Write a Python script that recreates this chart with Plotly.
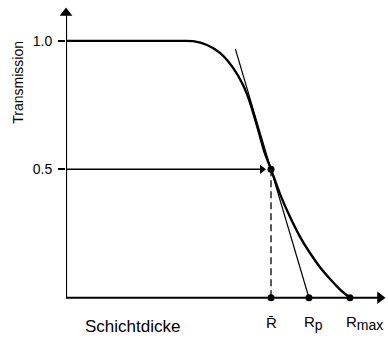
import plotly.graph_objects as go

# ---- data (thickness in units of mean range R̄, transmission 0..1) ----
curve_x = [0.0, 0.556, 0.620, 0.688, 0.751, 0.815, 0.863, 0.898, 0.937, 0.966,
           1.0, 1.044, 1.093, 1.141, 1.190, 1.239, 1.288, 1.337, 1.385]
curve_y = [1.0, 1.0, 0.999, 0.984, 0.953, 0.895, 0.829, 0.759, 0.654, 0.572,
           0.5, 0.4035, 0.314, 0.238, 0.174, 0.119, 0.073, 0.032, 0.0]
tangent_x = [0.826, 1.185]
tangent_y = [0.969, 0.0]
R_bar, R_p, R_max = 1.0, 1.185, 1.385
T_half = 0.5
y_ticks = [0.5, 1.0]
y_ticktext = ["0.5", "1.0"]
x_marks = [R_bar, R_p, R_max]
x_labels = ["R\u0304",
            "R<sub><span style='font-size:14px'>p</span></sub>",
            "R<sub><span style='font-size:14px'>max</span></sub>"]
x_axis_end = 1.556
y_axis_end = 1.128

X_RANGE = [0, x_axis_end]
Y_RANGE = [-0.04, y_axis_end]
X_PX = 205.0  # pixels per x unit
Y_PX = 257.0  # pixels per y unit


def px(x):  # data x -> paper fraction
    return (x - X_RANGE[0]) / (X_RANGE[1] - X_RANGE[0])


def py(y):  # data y -> paper fraction
    return (y - Y_RANGE[0]) / (Y_RANGE[1] - Y_RANGE[0])


FONT = "Liberation Sans, Arial, sans-serif"
fig = go.Figure()


def line(x, y, width, dash=None):
    fig.add_trace(go.Scatter(x=x, y=y, mode="lines",
                             line=dict(color="black", width=width, dash=dash),
                             cliponaxis=False, hoverinfo="skip", showlegend=False))


def head(x, y, symbol, size):
    fig.add_trace(go.Scatter(x=[x], y=[y], mode="markers",
                             marker=dict(color="black", size=size, symbol=symbol,
                                         line=dict(width=0)),
                             cliponaxis=False, hoverinfo="skip", showlegend=False))


# axes with arrowheads
x_head = x_axis_end - 5 / X_PX
y_head = y_axis_end - 5 / Y_PX
line([0, x_head], [0, 0], 2.2)
line([0, 0], [0, y_head], 2.2)
head(x_head, 0, "triangle-right", 11)
head(0, y_head, "triangle-up", 11)

# transmission curve
fig.add_trace(go.Scatter(x=curve_x, y=curve_y, mode="lines",
                         line=dict(color="black", width=2.4, shape="spline", smoothing=0.7),
                         hoverinfo="skip", showlegend=False))
# tangent at R̄
line(tangent_x, tangent_y, 1.2)
# dashed drop line at R̄
line([R_bar, R_bar], [T_half, 0], 1.3, dash="7px,4px")
# arrow at half transmission
h_head = R_bar - 9 / X_PX
line([0, h_head], [T_half, T_half], 1.6)
head(h_head, T_half, "triangle-right", 8)
# points
fig.add_trace(go.Scatter(x=[R_bar] + x_marks, y=[T_half, 0, 0, 0], mode="markers",
                         marker=dict(color="black", size=7, symbol="circle"),
                         cliponaxis=False, hoverinfo="skip", showlegend=False))

ann = []
lab_font = dict(family=FONT, size=15, color="black")
ann.append(dict(x=px(R_bar), y=py(-0.097), xref="paper", yref="paper", text=x_labels[0],
                showarrow=False, xanchor="center", yanchor="middle", font=lab_font))
ann.append(dict(x=px(R_p - 0.035), y=py(-0.097), xref="paper", yref="paper", text=x_labels[1],
                showarrow=False, xanchor="left", yanchor="middle", font=lab_font))
ann.append(dict(x=px(R_max - 0.03), y=py(-0.097), xref="paper", yref="paper", text=x_labels[2],
                showarrow=False, xanchor="left", yanchor="middle", font=lab_font))
ann.append(dict(x=px(0.322), y=py(-0.113), xref="paper", yref="paper", text="Schichtdicke",
                showarrow=False, xanchor="center", yanchor="middle",
                font=dict(family=FONT, size=17, color="black")))
ann.append(dict(x=px(-0.234), y=py(0.837), xref="paper", yref="paper", text="Transmission",
                showarrow=False, textangle=-90, xanchor="center", yanchor="middle",
                font=dict(family=FONT, size=14, color="black")))

fig.update_layout(
    width=388, height=340,
    margin=dict(l=66, r=3, t=8, b=31.72, autoexpand=False),
    paper_bgcolor="white", plot_bgcolor="white",
    showlegend=False,
    annotations=ann,
    xaxis=dict(range=X_RANGE, showgrid=False, zeroline=False, showline=False,
               showticklabels=False, ticks=""),
    yaxis=dict(range=Y_RANGE, showgrid=False, zeroline=False, showline=False,
               tickvals=y_ticks, ticktext=y_ticktext, ticks="outside", ticklen=7,
               tickwidth=1.5, tickcolor="black", ticklabelstandoff=3,
               tickfont=dict(family=FONT, size=14, color="black")),
)

fig.write_html("out.html", config={"displayModeBar": False},
               post_script="document.body.style.margin='0';")
